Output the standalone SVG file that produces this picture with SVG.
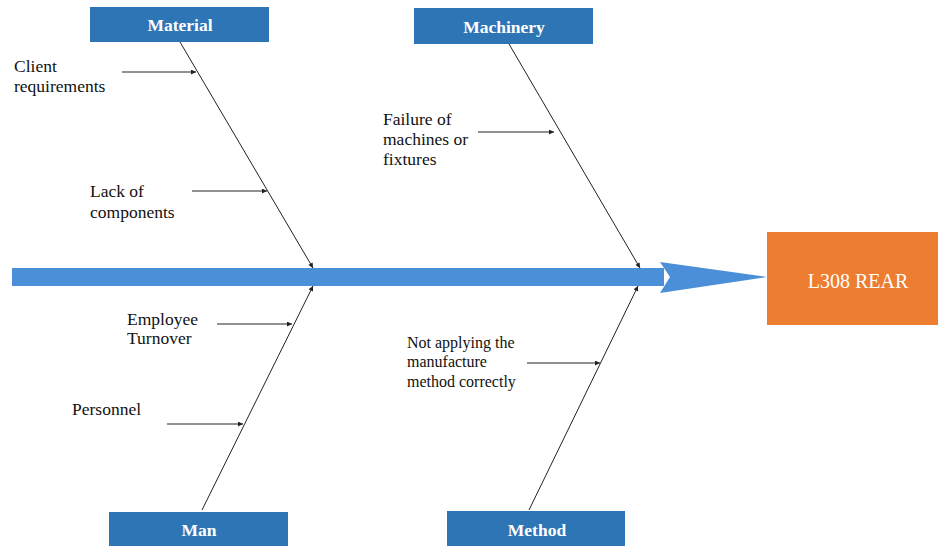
<svg xmlns="http://www.w3.org/2000/svg" width="938" height="550" viewBox="0 0 938 550">
<defs>
<marker id="ah" viewBox="0 0 10 10" refX="10" refY="5" markerWidth="7" markerHeight="5" markerUnits="userSpaceOnUse" orient="auto">
<path d="M0,0 L10,5 L0,10 z" fill="#222"/>
</marker>
</defs>
<style>
.cat{fill:#2E75B6}
.catT{font-family:"Liberation Serif","Times New Roman","DejaVu Serif",serif;font-weight:bold;font-size:17.5px;fill:#fff;text-anchor:middle}
.lbl{font-family:"Liberation Serif","Times New Roman","DejaVu Serif",serif;font-size:17.5px;fill:#111}
.sm{font-size:16px}
.cause{stroke:#222;stroke-width:1;fill:none;marker-end:url(#ah)}
.eff{font-family:"Liberation Serif","Times New Roman","DejaVu Serif",serif;font-size:20px;fill:#fff;text-anchor:middle}
</style>
<rect width="938" height="550" fill="#fff"/>
<g id="spine">
<rect x="12" y="268" width="652" height="18" fill="#4A8FD8"/>
<path d="M660,262 L767,277 L660,293 L670,277 Z" fill="#4A8FD8"/>
</g>
<g id="connectors">
<line class="cause" x1="180" y1="42" x2="313" y2="268"/>
<line class="cause" x1="509" y1="44" x2="640" y2="268"/>
<line class="cause" x1="202" y1="510" x2="313" y2="286"/>
<line class="cause" x1="529" y1="510" x2="638" y2="286"/>
<line class="cause" x1="122" y1="72" x2="196" y2="72"/>
<line class="cause" x1="192" y1="191" x2="267" y2="191"/>
<line class="cause" x1="478" y1="132" x2="554" y2="132"/>
<line class="cause" x1="217" y1="324" x2="292" y2="324"/>
<line class="cause" x1="167" y1="424" x2="243" y2="424"/>
<line class="cause" x1="527" y1="363" x2="600" y2="363"/>
</g>
<g id="material">
<rect class="cat" x="90" y="7" width="179" height="35"/>
<text class="catT" x="180" y="31">Material</text>
</g>
<g id="machinery">
<rect class="cat" x="414" y="8" width="179" height="36"/>
<text class="catT" x="504" y="33">Machinery</text>
</g>
<g id="man">
<rect class="cat" x="109" y="512" width="179" height="34"/>
<text class="catT" x="199" y="536">Man</text>
</g>
<g id="method">
<rect class="cat" x="447" y="511" width="178" height="35"/>
<text class="catT" x="537" y="536">Method</text>
</g>
<g id="effect">
<rect x="767" y="232" width="171" height="93" fill="#ED7D31"/>
<text class="eff" x="858" y="288">L308 REAR</text>
</g>
<g id="client">
<text class="lbl" x="14" y="72">Client</text>
<text class="lbl" x="14" y="92">requirements</text>
</g>
<g id="lack">
<text class="lbl" x="90" y="197">Lack of</text>
<text class="lbl" x="90" y="218">components</text>
</g>
<g id="failure">
<text class="lbl" x="383" y="125">Failure of</text>
<text class="lbl" x="383" y="145">machines or</text>
<text class="lbl" x="383" y="165">fixtures</text>
</g>
<g id="employee">
<text class="lbl" x="127" y="325">Employee</text>
<text class="lbl" x="127" y="344">Turnover</text>
</g>
<g id="personnel">
<text class="lbl" x="72" y="415">Personnel</text>
</g>
<g id="notapplying">
<text class="lbl sm" x="407" y="348">Not applying the</text>
<text class="lbl sm" x="407" y="367">manufacture</text>
<text class="lbl sm" x="407" y="387">method correctly</text>
</g>
</svg>
